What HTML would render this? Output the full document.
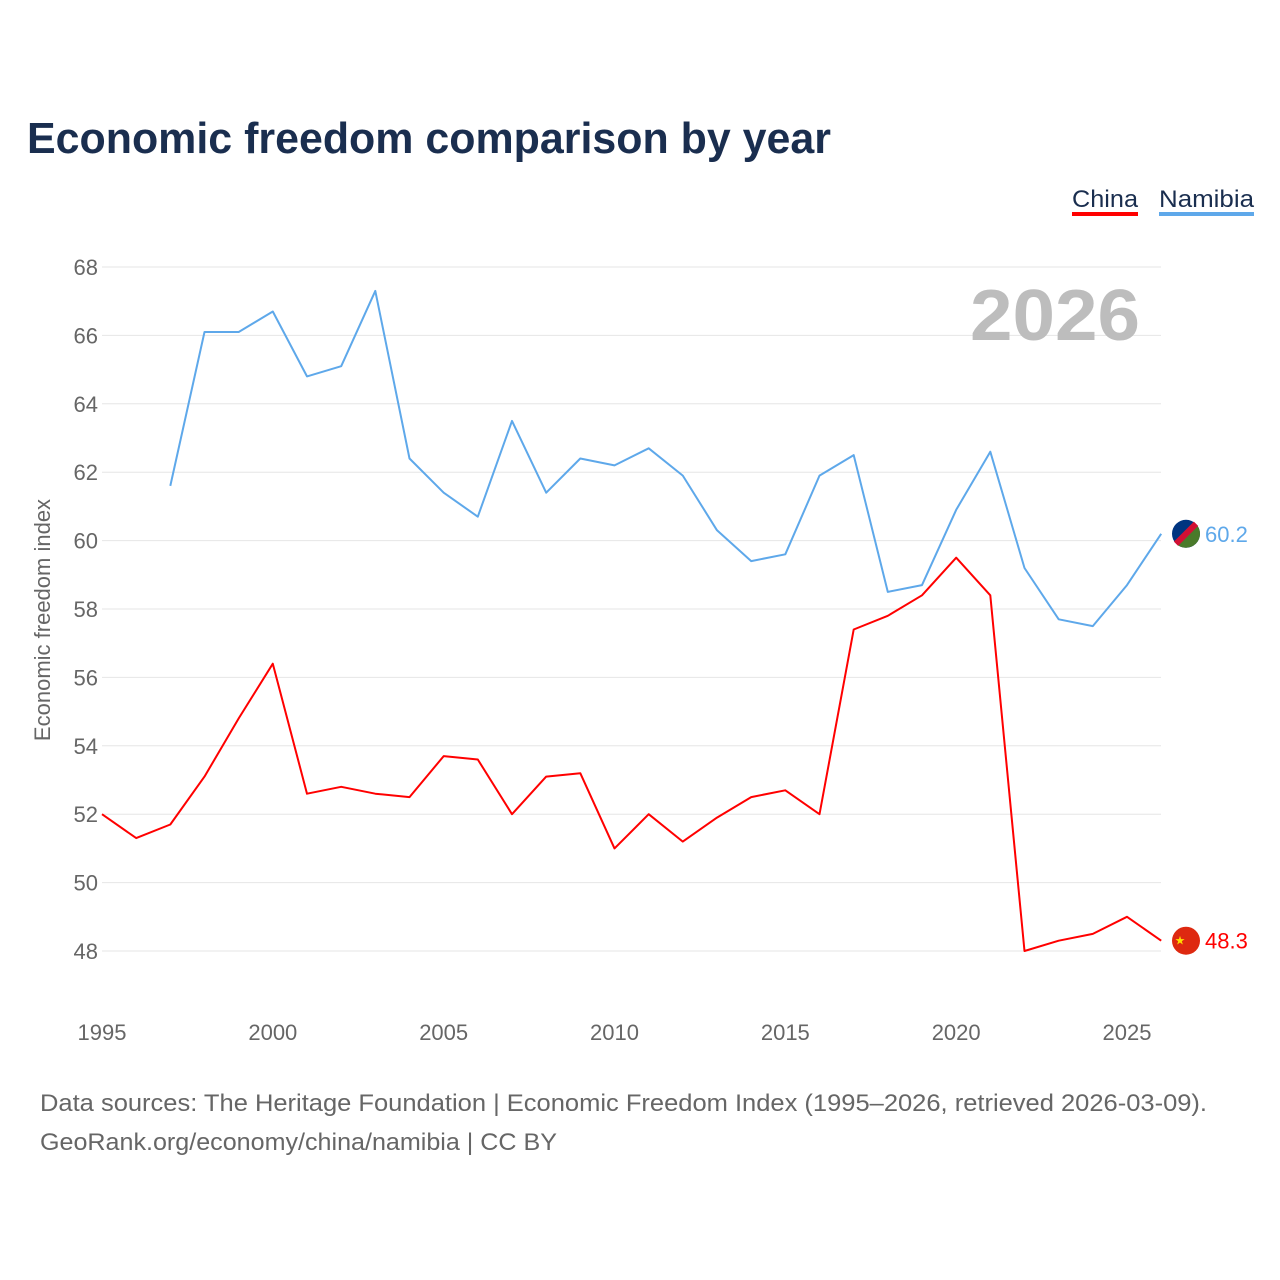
<!DOCTYPE html>
<html><head><meta charset="utf-8">
<style>
body{margin:0;background:#fff;font-family:"Liberation Sans",sans-serif;}
#wrap{position:relative;width:1280px;height:1280px;overflow:hidden;}
</style></head>
<body>
<div id="wrap">
<svg id="chart" width="1280" height="1280"></svg>
</div>
<script>
const years=[];for(let y=1995;y<=2026;y++)years.push(y);
const china=[52.0,51.3,51.7,53.1,54.8,56.4,52.6,52.8,52.6,52.5,53.7,53.6,52.0,53.1,53.2,51.0,52.0,51.2,51.9,52.5,52.7,52.0,57.4,57.8,58.4,59.5,58.4,48.0,48.3,48.5,49.0,48.3];
const namibia=[null,null,61.6,66.1,66.1,66.7,64.8,65.1,67.3,62.4,61.4,60.7,63.5,61.4,62.4,62.2,62.7,61.9,60.3,59.4,59.6,61.9,62.5,58.5,58.7,60.9,62.6,59.2,57.7,57.5,58.7,60.2];
const yTicks=[48,50,52,54,56,58,60,62,64,66,68];
const xTicks=[1995,2000,2005,2010,2015,2020,2025];
const NS='http://www.w3.org/2000/svg';
const svg=document.getElementById('chart');
const X=y=>102+(y-1995)*(1025/30);
const Y=v=>951-(v-48)*34.2;
function el(t,a,txt){const e=document.createElementNS(NS,t);for(const k in a)e.setAttribute(k,a[k]);if(txt!=null)e.textContent=txt;svg.appendChild(e);return e;}
let t=el('text',{x:27,y:153,'font-size':44,'font-weight':'bold',fill:'#1a2e4f',textLength:804,lengthAdjust:'spacingAndGlyphs'},'Economic freedom comparison by year');

yTicks.forEach(v=>{
 let g=el('line',{x1:102,x2:1161,y1:Y(v),y2:Y(v),stroke:'#e6e6e6','stroke-width':1});
 
 let l=el('text',{x:98,y:Y(v)+8,'font-size':22,fill:'#666','text-anchor':'end'},v);
 
});
xTicks.forEach(v=>{
 let l=el('text',{x:X(v),y:1040,'font-size':22,fill:'#666','text-anchor':'middle'},v);
 
});
t=el('text',{x:0,y:0,'font-size':22,fill:'#666','text-anchor':'middle',transform:'translate(50,620) rotate(-90)'},'Economic freedom index');

t=el('text',{x:1140,y:340,'font-size':72,'font-weight':'bold',fill:'#bdbdbd','text-anchor':'end',textLength:170,lengthAdjust:'spacingAndGlyphs'},'2026');

function path(arr,color,name){
 let d='';arr.forEach((v,i)=>{if(v==null)return;d+=(d?'L':'M')+X(years[i]).toFixed(1)+','+Y(v).toFixed(1);});
 let p=el('path',{d:d,fill:'none',stroke:color,'stroke-width':2,'stroke-linejoin':'round'});
 
}
path(namibia,'#5ea8ea','namibia-line');
path(china,'#ff0000','china-line');
const lc=china[china.length-1], ln=namibia[namibia.length-1];
let c=el('circle',{cx:1186,cy:Y(lc),r:14,fill:'#de2910'});

let s=el('text',{x:1180,y:Y(lc)+4,'font-size':12,fill:'#ffde00','text-anchor':'middle'},'★');

t=el('text',{x:1205,y:Y(lc)+8,'font-size':22,fill:'#ff0000'},lc.toFixed(1));

const cy=Y(ln);
c=el('circle',{cx:1186,cy:cy,r:14,fill:'#003580'});
let hp=el('path',{d:`M${1186+9.9},${cy-9.9} A14,14 0 0 1 ${1186-9.9},${cy+9.9} Z`,fill:'#4a7a2a'});

let st=el('line',{x1:1176,y1:cy+10,x2:1196,y2:cy-10,stroke:'#d21034','stroke-width':6});

t=el('text',{x:1205,y:cy+8,'font-size':22,fill:'#5ea8ea'},ln.toFixed(1));

t=el('text',{x:1072,y:207,'font-size':24,fill:'#1a2e4f',textLength:66,lengthAdjust:'spacingAndGlyphs'},'China');

let r=el('rect',{x:1072,y:212,width:66,height:4,fill:'#ff0000'});

t=el('text',{x:1159,y:207,'font-size':24,fill:'#1a2e4f',textLength:95,lengthAdjust:'spacingAndGlyphs'},'Namibia');

r=el('rect',{x:1159,y:212,width:95,height:4,fill:'#5ea8ea'});

t=el('text',{x:40,y:1111,'font-size':24,fill:'#666',textLength:1167,lengthAdjust:'spacingAndGlyphs'},'Data sources: The Heritage Foundation | Economic Freedom Index (1995–2026, retrieved 2026-03-09).');

t=el('text',{x:40,y:1150,'font-size':24,fill:'#666',textLength:517,lengthAdjust:'spacingAndGlyphs'},'GeoRank.org/economy/china/namibia | CC BY');

</script>
</body></html>
